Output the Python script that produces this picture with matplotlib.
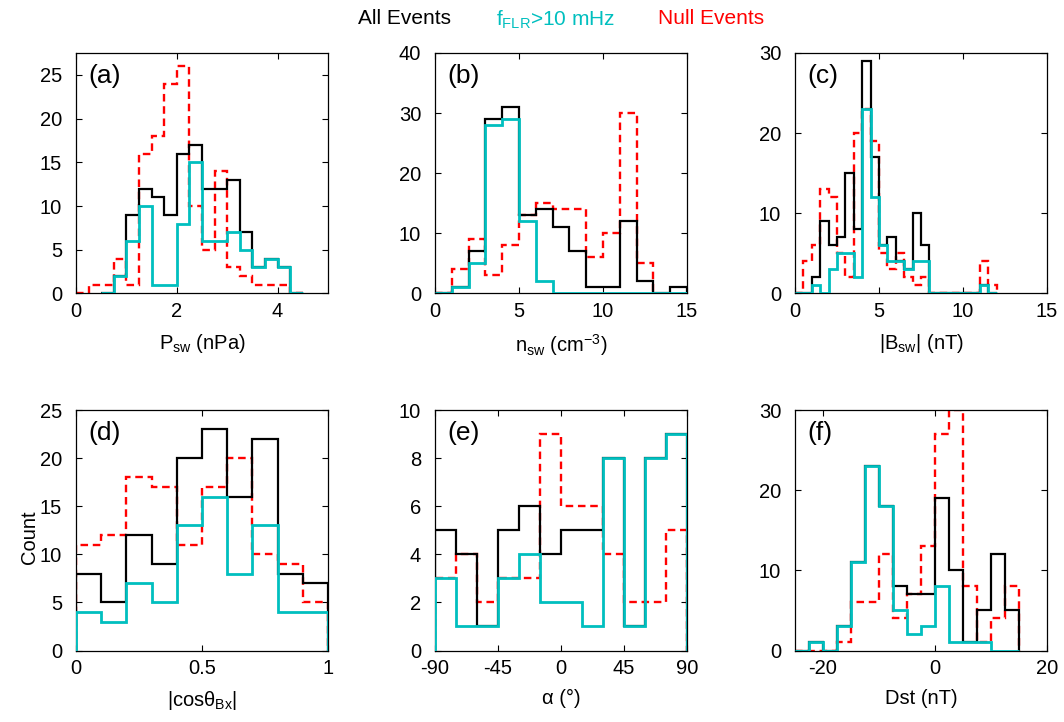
import numpy as np
import matplotlib
matplotlib.use("Agg")
import matplotlib.pyplot as plt

plt.rcParams['font.family'] = ['Liberation Sans', 'DejaVu Sans']
plt.rcParams['mathtext.fontset'] = 'custom'
plt.rcParams['mathtext.rm'] = 'Liberation Sans'
plt.rcParams['mathtext.it'] = 'Liberation Sans'

# ---------------- data ----------------
# (a) Psw, bin width 0.25 nPa
a_width = 0.25
a_black_start, a_black = 0.5, [0, 2, 9, 12, 11, 9, 16, 17, 12, 12, 13, 7, 3, 4, 3, 0]
a_cyan_start, a_cyan = 0.5, [0, 2, 6, 10, 1, 1, 8, 15, 6, 6, 7, 5, 3, 4, 3, 0]
a_red_start, a_red = 0.0, [0, 1, 1, 4, 1, 16, 18, 24, 26, 10, 5, 14, 3, 2, 1, 1, 1, 0]

# (b) nsw, bin width 1 cm^-3
b_width = 1.0
b_black_start, b_black = 0.0, [0, 1, 7, 29, 31, 13, 14, 11, 7, 1, 1, 12, 2, 0, 1]
b_cyan_start, b_cyan = 0.0, [0, 1, 5, 28, 29, 12, 2, 0, 0, 0, 0, 0, 0, 0, 0]
b_red_start, b_red = 0.0, [0, 4, 9, 3, 8, 13, 15, 14, 14, 6, 10, 30, 5]

# (c) |Bsw|, bin width 0.5 nT
c_width = 0.5
c_black_start, c_black = 0.0, [0, 0, 2, 9, 6, 7, 15, 8, 29, 17, 6, 7, 4, 3, 10, 6,
                               0, 0, 0, 0, 0, 0, 1, 0]
c_cyan_start, c_cyan = 0.0, [0, 0, 1, 0, 3, 5, 5, 2, 23, 12, 6, 4, 4, 3, 4, 4,
                             0, 0, 0, 0, 0, 0, 1, 0]
c_red_start, c_red = 0.0, [0, 4, 6, 13, 12, 5, 2, 20, 23, 19, 5, 3, 5, 2, 1, 2,
                           0, 0, 0, 0, 0, 0, 4, 1]

# (d) |cos theta_Bx|, bin width 0.1
d_width = 0.1
d_black_start, d_black = 0.0, [8, 5, 12, 9, 20, 23, 16, 22, 8, 7]
d_cyan_start, d_cyan = 0.0, [4, 3, 7, 5, 13, 16, 8, 13, 4, 4]
d_red_start, d_red = 0.0, [11, 12, 18, 17, 11, 17, 20, 10, 9, 5]

# (e) alpha, bin width 15 deg
e_width = 15.0
e_black_start, e_black = -90.0, [5, 4, 1, 5, 6, 4, 5, 5, 8, 1, 8, 9]
e_cyan_start, e_cyan = -90.0, [3, 1, 1, 3, 4, 2, 2, 1, 8, 1, 8, 9]
e_red_start, e_red = -90.0, [3, 4, 2, 3, 3, 9, 6, 6, 4, 2, 2, 5]

# (f) Dst, bin width 2.5 nT
f_width = 2.5
f_black_start, f_black = -25.0, [0, 1, 0, 3, 11, 23, 18, 8, 7, 7, 19, 10, 1, 5, 12, 5]
f_cyan_start, f_cyan = -25.0, [0, 1, 0, 3, 11, 23, 18, 5, 2, 3, 8, 1, 1, 1, 0, 0]
f_red_start, f_red = -25.0, [0, 0, 0, 1, 6, 6, 12, 4, 7, 13, 27, 30, 8, 1, 4, 8]

panel_labels = ['(a)', '(b)', '(c)', '(d)', '(e)', '(f)']
x_labels = [r'P$_{\rm sw}$ (nPa)', r'n$_{\rm sw}$ (cm$^{-3}$)', r'|B$_{\rm sw}$| (nT)',
            r'|cos$\theta_{\rm Bx}$|', 'α (°)', 'Dst (nT)']
x_limits = [(0, 5), (0, 15), (0, 15), (0, 1), (-90, 90), (-25, 20)]
x_ticks = [[0, 2, 4], [0, 5, 10, 15], [0, 5, 10, 15], [0, 0.5, 1],
           [-90, -45, 0, 45, 90], [-20, 0, 20]]
x_ticklabels = [['0', '2', '4'], ['0', '5', '10', '15'], ['0', '5', '10', '15'],
                ['0', '0.5', '1'], ['-90', '-45', '0', '45', '90'], ['-20', '0', '20']]
y_limits = [(0, 27.5), (0, 40), (0, 30), (0, 25), (0, 10), (0, 30)]
y_ticks = [[0, 5, 10, 15, 20, 25], [0, 10, 20, 30, 40], [0, 10, 20, 30],
           [0, 5, 10, 15, 20, 25], [0, 2, 4, 6, 8, 10], [0, 10, 20, 30]]

legend_labels = ['All Events', r'f$_{\rm FLR}$>10 mHz', 'Null Events']

panels = [
    (a_width, (a_black_start, a_black), (a_cyan_start, a_cyan), (a_red_start, a_red)),
    (b_width, (b_black_start, b_black), (b_cyan_start, b_cyan), (b_red_start, b_red)),
    (c_width, (c_black_start, c_black), (c_cyan_start, c_cyan), (c_red_start, c_red)),
    (d_width, (d_black_start, d_black), (d_cyan_start, d_cyan), (d_red_start, d_red)),
    (e_width, (e_black_start, e_black), (e_cyan_start, e_cyan), (e_red_start, e_red)),
    (f_width, (f_black_start, f_black), (f_cyan_start, f_cyan), (f_red_start, f_red)),
]

# ---------------- figure ----------------
W, H = 1064, 722
fig = plt.figure(figsize=(W / 100, H / 100), dpi=100)

BLACK = '#000000'
CYAN = '#00BFBF'
RED = '#FF0000'
FS = 14.5

lefts = [76, 435, 795]
tops = [53, 410]
aw, ah = 252, 240.5


def edges_for(start, counts, width):
    return start + width * np.arange(len(counts) + 1)


for i, (width, blk, cyn, red) in enumerate(panels):
    r, c = divmod(i, 3)
    l = lefts[c]
    t = tops[r]
    ax = fig.add_axes([l / W, 1 - (t + ah) / H, aw / W, ah / H])

    ax.stairs(red[1], edges_for(red[0], red[1], width), baseline=0, color=RED,
              lw=1.7, linestyle=(0, (3.2, 2.0)), zorder=2)
    ax.stairs(blk[1], edges_for(blk[0], blk[1], width), baseline=0, color=BLACK,
              lw=1.6, zorder=3)
    ax.stairs(cyn[1], edges_for(cyn[0], cyn[1], width), baseline=0, color=CYAN,
              lw=2.0, zorder=4)

    ax.set_xlim(*x_limits[i])
    ax.set_ylim(*y_limits[i])
    ax.set_xticks(x_ticks[i])
    ax.set_xticklabels(x_ticklabels[i])
    ax.set_yticks(y_ticks[i])
    ax.tick_params(direction='in', top=True, right=True, length=4, width=0.8,
                   labelsize=FS)
    ax.tick_params(axis='x', pad=6)
    ax.tick_params(axis='y', pad=10)
    for sp in ax.spines.values():
        sp.set_linewidth(0.9)
    ax.set_xlabel(x_labels[i], fontsize=FS, labelpad=8)
    ax.text(0.05, 0.905, panel_labels[i], transform=ax.transAxes, fontsize=19,
            ha='left', va='center')

fig.text(30 / W, 1 - 537 / H, 'Count', rotation=90, fontsize=FS,
         ha='center', va='center')

fig.text(405 / W, 1 - 18 / H, legend_labels[0], color=BLACK, fontsize=15,
         ha='center', va='center')
fig.text(556 / W, 1 - 20 / H, legend_labels[1], color=CYAN, fontsize=15,
         ha='center', va='center')
fig.text(711 / W, 1 - 18 / H, legend_labels[2], color=RED, fontsize=15,
         ha='center', va='center')

fig.savefig('out.png', dpi=100)
